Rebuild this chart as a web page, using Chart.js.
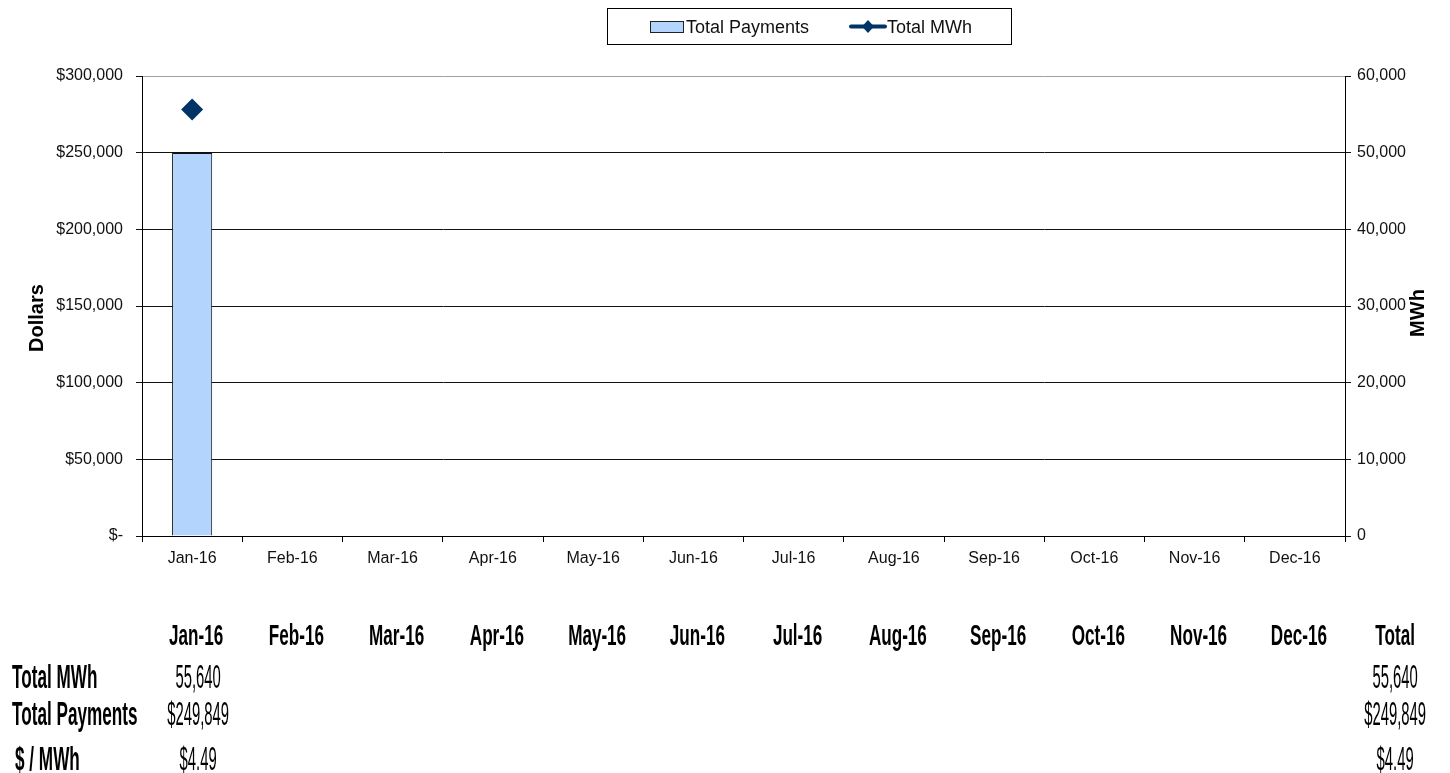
<!DOCTYPE html>
<html>
<head>
<meta charset="UTF-8">
<title>Total Payments / Total MWh</title>
<script src="https://cdn.jsdelivr.net/npm/chart.js@4.4.1/dist/chart.umd.min.js"></script>
<style>
html, body { margin: 0; padding: 0; background: #fff; }
#myChart { display: block; }
</style>
</head>
<body>
<canvas id="myChart" width="1450" height="773"></canvas>
<script>
// chart data
var months = ['Jan-16','Feb-16','Mar-16','Apr-16','May-16','Jun-16','Jul-16','Aug-16','Sep-16','Oct-16','Nov-16','Dec-16'];
var totalPayments = [249849, null, null, null, null, null, null, null, null, null, null, null];
var totalMWh = [55640, null, null, null, null, null, null, null, null, null, null, null];
var dollarTicks = { min: 0, max: 300000, step: 50000 };
var mwhTicks = { min: 0, max: 60000, step: 10000 };

var FONT = '"Liberation Sans", Arial, sans-serif';

function fmtNum(v) { return Math.round(v).toLocaleString('en-US'); }
function fmtDollar(v) { return '$' + fmtNum(v); }

// narrow text for the table under the chart
function narrowText(ctx, text, x, y, font, sx, align) {
	ctx.save();
	ctx.translate(x, y);
	ctx.scale(sx, 1);
	ctx.font = font;
	ctx.textAlign = align;
	ctx.textBaseline = 'alphabetic';
	ctx.fillStyle = '#000';
	ctx.fillText(text, 0, 0);
	ctx.restore();
}

var extrasPlugin = {
	id: 'extras',
	afterDraw: function(chart) {
		var ctx = chart.ctx;
		var area = chart.chartArea;

		// legend box
		ctx.save();
		ctx.strokeStyle = '#000';
		ctx.lineWidth = 1;
		ctx.strokeRect(607.5, 8.5, 404, 36);
		ctx.fillStyle = '#b3d5fd';
		ctx.fillRect(650, 21, 33, 11);
		ctx.strokeStyle = '#222';
		ctx.strokeRect(650.5, 21.5, 33, 11);
		ctx.font = '18px ' + FONT;
		ctx.fillStyle = '#111';
		ctx.textBaseline = 'alphabetic';
		ctx.textAlign = 'left';
		ctx.fillText('Total Payments', 686, 33);
		ctx.strokeStyle = '#003366';
		ctx.lineWidth = 4;
		ctx.lineCap = 'round';
		ctx.beginPath();
		ctx.moveTo(851, 26.5);
		ctx.lineTo(885, 26.5);
		ctx.stroke();
		ctx.fillStyle = '#003366';
		ctx.beginPath();
		ctx.moveTo(868, 20); ctx.lineTo(874, 26.5); ctx.lineTo(868, 33); ctx.lineTo(862, 26.5);
		ctx.closePath();
		ctx.fill();
		ctx.fillStyle = '#111';
		ctx.fillText('Total MWh', 887, 33);

		// axis titles
		ctx.font = 'bold 20px ' + FONT;
		ctx.fillStyle = '#000';
		ctx.textAlign = 'center';
		ctx.textBaseline = 'middle';
		var midY = (area.top + area.bottom) / 2;
		ctx.save();
		ctx.translate(37, midY + 12);
		ctx.rotate(-Math.PI / 2);
		ctx.fillText('Dollars', 0, 0);
		ctx.restore();
		ctx.save();
		ctx.translate(1418, midY + 7);
		ctx.rotate(-Math.PI / 2);
		ctx.fillText('MWh', 0, 0);
		ctx.restore();
		ctx.restore();

		// table under the chart
		var xs = chart.scales.x;
		var colW = xs.getPixelForValue(1) - xs.getPixelForValue(0);
		var hdrFont = 'bold 30px ' + FONT;
		var lblFont = 'bold 33px ' + FONT;
		var valFont = '33px ' + FONT;
		var rows = [645, 688, 725, 770];
		var sumMWh = 0, sumPay = 0;
		for (var i = 0; i < months.length; i++) {
			var cx = xs.getPixelForValue(i) + 4;
			narrowText(ctx, months[i], cx, rows[0], hdrFont, 0.57, 'center');
			if (totalMWh[i] != null) {
				sumMWh += totalMWh[i];
				sumPay += totalPayments[i];
				narrowText(ctx, fmtNum(totalMWh[i]), cx + 2, rows[1], valFont, 0.45, 'center');
				narrowText(ctx, fmtDollar(totalPayments[i]), cx + 2, rows[2], valFont, 0.45, 'center');
				narrowText(ctx, '$' + (totalPayments[i] / totalMWh[i]).toFixed(2), cx + 2, rows[3], valFont, 0.45, 'center');
			}
		}
		var tx = xs.getPixelForValue(months.length - 1) + colW;
		narrowText(ctx, 'Total', tx, rows[0], hdrFont, 0.57, 'center');
		narrowText(ctx, fmtNum(sumMWh), tx, rows[1], valFont, 0.45, 'center');
		narrowText(ctx, fmtDollar(sumPay), tx, rows[2], valFont, 0.45, 'center');
		narrowText(ctx, '$' + (sumPay / sumMWh).toFixed(2), tx, rows[3], valFont, 0.45, 'center');

		narrowText(ctx, 'Total MWh', 12, rows[1], lblFont, 0.52, 'left');
		narrowText(ctx, 'Total Payments', 12, rows[2], lblFont, 0.52, 'left');
		narrowText(ctx, '$ / MWh', 15, rows[3], lblFont, 0.52, 'left');
	}
};

var ctx = document.getElementById('myChart').getContext('2d');
var myChart = new Chart(ctx, {
	type: 'bar',
	data: {
		labels: months,
		datasets: [{
			type: 'line',
			label: 'Total MWh',
			data: totalMWh,
			yAxisID: 'y1',
			order: 0,
			showLine: false,
			pointStyle: 'rectRot',
			pointRadius: 11,
			backgroundColor: '#003366',
			borderColor: '#003366',
			borderWidth: 0
		}, {
			type: 'bar',
			label: 'Total Payments',
			data: totalPayments,
			yAxisID: 'y',
			order: 1,
			backgroundColor: '#b3d5fd',
			borderColor: '#111',
			borderWidth: 1,
			categoryPercentage: 0.8,
			barPercentage: 0.5
		}]
	},
	options: {
		responsive: false,
		animation: false,
		devicePixelRatio: 1,
		layout: { padding: { top: 76, bottom: 197, left: 0, right: 0 } },
		plugins: {
			legend: { display: false },
			tooltip: { enabled: false }
		},
		scales: {
			x: {
				offset: true,
				grid: { offset: true, drawOnChartArea: false, drawTicks: true, tickLength: 6, color: '#000' },
				border: { color: '#000', width: 1 },
				ticks: { color: '#111', font: { family: FONT, size: 16 }, padding: 7, maxRotation: 0 },
				afterFit: function(scale) { scale.height = 40; }
			},
			y: {
				position: 'left',
				min: dollarTicks.min,
				max: dollarTicks.max,
				ticks: {
					stepSize: dollarTicks.step,
					color: '#111',
					font: { family: FONT, size: 16 },
					padding: 13,
					callback: function(v) { return v === 0 ? '$-' : fmtDollar(v); }
				},
				grid: {
					color: function(c) { return c.tick && c.tick.value === dollarTicks.max ? '#a0a0a0' : '#111'; },
					tickColor: '#111',
					tickLength: 6,
					lineWidth: 1
				},
				border: { color: '#000', width: 1 },
				afterFit: function(scale) { scale.width = 142; }
			},
			y1: {
				position: 'right',
				min: mwhTicks.min,
				max: mwhTicks.max,
				ticks: {
					stepSize: mwhTicks.step,
					color: '#111',
					font: { family: FONT, size: 16 },
					padding: 6,
					callback: function(v) { return fmtNum(v); }
				},
				grid: { drawOnChartArea: false, drawTicks: true, tickLength: 6, color: '#111' },
				border: { color: '#000', width: 1 },
				afterFit: function(scale) { scale.width = 105; }
			}
		}
	},
	plugins: [extrasPlugin]
});
</script>
</body>
</html>
